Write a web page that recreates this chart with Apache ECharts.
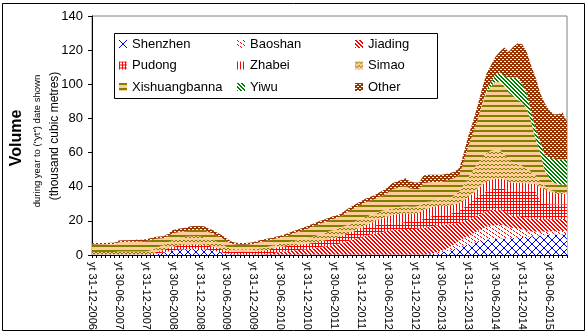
<!DOCTYPE html>
<html><head><meta charset="utf-8">
<script src="https://cdn.jsdelivr.net/npm/echarts@6/dist/echarts.min.js"></script>
<style>html,body{margin:0;padding:0;background:#fff}#c{width:588px;height:336px}</style>
</head><body><div id="c"></div>
<script>
const categories = [
'yt 31-12-2006',
'yt 31-01-2007','yt 28-02-2007','yt 31-03-2007','yt 30-04-2007','yt 31-05-2007','yt 30-06-2007','yt 31-07-2007','yt 31-08-2007','yt 30-09-2007','yt 31-10-2007','yt 30-11-2007','yt 31-12-2007',
'yt 31-01-2008','yt 29-02-2008','yt 31-03-2008','yt 30-04-2008','yt 31-05-2008','yt 30-06-2008','yt 31-07-2008','yt 31-08-2008','yt 30-09-2008','yt 31-10-2008','yt 30-11-2008','yt 31-12-2008',
'yt 31-01-2009','yt 28-02-2009','yt 31-03-2009','yt 30-04-2009','yt 31-05-2009','yt 30-06-2009','yt 31-07-2009','yt 31-08-2009','yt 30-09-2009','yt 31-10-2009','yt 30-11-2009','yt 31-12-2009',
'yt 31-01-2010','yt 28-02-2010','yt 31-03-2010','yt 30-04-2010','yt 31-05-2010','yt 30-06-2010','yt 31-07-2010','yt 31-08-2010','yt 30-09-2010','yt 31-10-2010','yt 30-11-2010','yt 31-12-2010',
'yt 31-01-2011','yt 28-02-2011','yt 31-03-2011','yt 30-04-2011','yt 31-05-2011','yt 30-06-2011','yt 31-07-2011','yt 31-08-2011','yt 30-09-2011','yt 31-10-2011','yt 30-11-2011','yt 31-12-2011',
'yt 31-01-2012','yt 29-02-2012','yt 31-03-2012','yt 30-04-2012','yt 31-05-2012','yt 30-06-2012','yt 31-07-2012','yt 31-08-2012','yt 30-09-2012','yt 31-10-2012','yt 30-11-2012','yt 31-12-2012',
'yt 31-01-2013','yt 28-02-2013','yt 31-03-2013','yt 30-04-2013','yt 31-05-2013','yt 30-06-2013','yt 31-07-2013','yt 31-08-2013','yt 30-09-2013','yt 31-10-2013','yt 30-11-2013','yt 31-12-2013',
'yt 31-01-2014','yt 28-02-2014','yt 31-03-2014','yt 30-04-2014','yt 31-05-2014','yt 30-06-2014','yt 31-07-2014','yt 31-08-2014','yt 30-09-2014','yt 31-10-2014','yt 30-11-2014','yt 31-12-2014',
'yt 31-01-2015','yt 28-02-2015','yt 31-03-2015','yt 30-04-2015','yt 31-05-2015','yt 30-06-2015','yt 31-07-2015','yt 31-08-2015','yt 30-09-2015','yt 31-10-2015'
];

const shenzhen = [0.3,
0.3,0.3,0.3,0.3,0.3,0.3,0.3,0.3,0.3,0.3,0.3,0.3,
0.3,0.6,1.0,1.5,2.0,2.5,2.9,3.2,3.4,3.5,3.6,3.5,
3.3,3.0,2.6,2.0,1.4,0.9,0.5,0.3,0.3,0.3,0.3,0.3,
0.3,0.3,0.3,0.3,0.3,0.3,0.3,0.3,0.3,0.3,0.3,0.3,
0.3,0.3,0.3,0.3,0.3,0.3,0.3,0.3,0.3,0.3,0.3,0.3,
0.3,0.3,0.3,0.3,0.3,0.3,0.3,0.3,0.3,0.3,0.3,0.3,
0.3,0.3,0.3,0.6,1.0,1.5,2.0,2.8,3.6,4.5,5.5,6.2,
7.0,8.0,8.5,9.0,9.3,9.5,9.6,9.7,9.8,10,10.2,10.5,
10.7,11,11.2,11.4,11.6,11.8,12,12,12.2,12.3];

const baoshan = [0,
0,0,0,0,0,0,0,0,0,0,0,0,
0,0,0,0,0,0,0,0,0,0,0,0,
0,0,0,0,0,0,0,0,0,0,0,0,
0,0,0,0,0,0,0,0,0,0,0,0,
0,0,0,0,0,0,0,0,0,0,0,0,
0,0,0,0,0,0,0,0,0,0,0,0,
0,0,0.1,0.3,0.6,1.0,1.5,2.2,3.0,3.8,4.5,5.0,
5.5,6.0,6.8,7.5,8.0,8.0,8.0,7.6,6.5,5.8,5.5,4.5,
3.5,2.8,2.5,2.2,2.1,2.0,2.0,2.0,1.9,1.9];

const jiading = [0,
0,0,0,0,0,0,0,0,0,0,0,0,
0,0,0,0,0,0,0,0,0,0,0,0,
0,0,0,0,0,0,0,0,0,0,0,0,
0,0,0.3,0.7,1.0,1.5,1.8,2.0,2.3,2.6,2.8,3.0,
3.4,3.8,4.3,4.8,5.2,5.6,6.2,7.0,7.8,8.5,9.2,10,
10.8,11.5,12.2,12.8,13.3,13.8,14.2,14.5,14.8,15,15,15,
15.2,15.5,16,16,15.8,15.2,14.3,13,11.8,10.5,9.8,9.5,
9.3,9.2,9.0,9.0,9,9,8.8,8.3,7.5,7,7,7.2,
7.3,7.5,7.5,7.5,7.3,7.2,7,7,7,7];

const pudong = [0,
0,0,0,0,0,0,0,0,0,0,0,0,
0.3,0.8,1.2,1.6,2.0,2.3,2.5,2.6,2.7,2.7,2.7,2.6,
2.5,2.4,2.2,2.0,1.8,1.6,1.5,1.5,1.5,1.5,1.6,1.7,
1.9,2.1,2.3,2.5,2.8,3.0,3.0,3.1,3.1,3.2,3.2,3.2,
3.3,3.4,3.5,3.6,3.8,3.9,4.1,4.3,4.5,4.7,4.9,5.0,
5.0,4.9,4.8,4.6,4.4,4.2,4.0,4.0,4.0,4.0,4.0,4.2,
4.5,5.5,5.8,6.0,6.0,6.0,6.0,6.2,6.6,7.2,8.0,9.0,
10,11,11.5,11.7,12,12.3,12.6,13.2,14,15,15.6,16,
16.5,16.5,16,10.5,9,8.8,8.8,8.6,8.6,8.5];

const zhabei = [0,
0,0,0,0,0,0,0,0,0,0,0,0,
0,0,0,0,0,0,0,0,0,0,0,0,
0,0,0,0,0,0,0,0,0,0,0,0,
0,0,0,0,0,0,0,0,0,0,0,0,
0,0,0,0,0,0,0,0,0,0.3,0.5,0.8,
1.2,1.8,2.5,3.2,3.8,4.3,4.8,5.0,5.2,5.2,5.0,4.8,
4.8,5.0,5.2,5.3,5.3,5.2,5.0,4.8,4.6,4.4,4.3,4.3,
4.2,4.2,5.0,5.8,5.8,5.8,5.8,5.5,5.0,4.5,4.2,4.0,
4.0,4.0,4.5,8,8.5,7.5,6.5,6.2,6.0,6.0];

const simao = [1.5,
1.5,1.5,1.5,1.5,1.5,1.8,1.8,1.8,1.8,1.8,1.8,1.8,
2.0,2.3,2.6,3.0,3.5,4.0,4.3,4.5,4.6,4.8,4.8,4.8,
4.6,4.3,4.0,3.6,3.0,2.4,1.8,1.6,1.5,1.5,1.5,1.5,
1.6,1.7,1.8,1.8,1.8,1.8,2.0,2.2,2.5,2.8,3.0,3.3,
3.5,3.8,4.0,4.3,4.6,4.9,5.0,5.0,5.0,5.0,5.0,5.0,
5.0,4.8,4.5,4.3,4.2,4.0,4.0,4.0,4.0,4.0,4.0,4.0,
4.0,4.0,3.8,3.6,3.6,3.8,4.0,4.5,5.5,7.0,9.0,11.5,
13.5,15,16,16.8,17,17,16.8,14.5,13,11.7,11,10,
8.8,7,5,3,2,1,1,1,1,1];

const xishuangbanna = [4.4,
4.4,4.5,4.5,4.6,4.6,5.4,5.5,5.6,5.7,5.8,5.9,6.1,
6.1,5.6,4.8,3.7,3.6,3.9,3.5,3.4,3.2,3.6,3.7,3.9,
4.2,3.8,3.7,3.6,3.7,3.5,3.0,2.7,2.7,2.7,2.8,3.0,
3.4,3.8,3.7,3.6,3.7,3.5,3.7,4.1,4.5,4.7,5.2,5.4,
5.9,6.1,6.3,6.4,6.5,6.6,6.4,6.8,7.7,7.9,8.2,8.4,
8.6,8.5,8.4,8.8,9.2,9.9,11.2,11.4,11.7,12.0,10.7,10.4,
9.9,11.7,11.3,10.9,10.5,10.3,10.7,10.7,10.1,9.6,13.9,18.5,
21.5,25.6,30.7,35.2,37.4,39.9,39.9,40.2,39.2,39,37.5,37.3,
35.2,29.6,21.3,17.4,9.5,6.7,5.2,4.7,4.5,4.5];

const yiwu = [0,
0,0,0,0,0,0,0,0,0,0,0,0,
0,0,0,0,0,0,0,0,0,0,0,0,
0,0,0,0,0,0,0,0,0,0,0,0,
0,0,0,0,0,0,0,0,0,0,0,0,
0,0,0,0,0,0,0,0,0,0,0,0,
0,0,0,0,0,0,0,0,0,0,0,0,
0,0,0,0,0,0,0,0,0,0,0,0,
0,0,0.5,1.5,2.5,4,5.5,6,9,11,13,10.5,
9,5.6,6,6.7,8.8,12,14,14.5,14.8,15];

const other = [0.8,
0.8,0.8,0.8,0.8,0.8,1.0,1.0,1.0,1.0,1.0,1.0,1.0,
1.1,1.2,1.2,1.2,1.4,1.8,2.0,2.0,2.1,2.2,2.2,2.2,
2.2,2.0,2.0,1.8,1.6,1.4,1.2,1.1,1.0,1.0,1.0,1.0,
1.1,1.1,1.1,1.1,1.1,1.2,1.2,1.3,1.3,1.4,1.5,1.6,
1.6,1.6,1.6,1.6,1.6,1.5,1.5,1.6,1.7,1.8,1.9,2.0,
2.1,2.2,2.3,2.5,2.8,3.0,3.5,3.8,4.0,4.5,4.0,3.8,
3.8,4.5,4.5,4.3,4.2,4.0,4.0,3.8,3.8,4.0,5.0,6.0,
7.0,8.0,9.0,9.5,10,10.5,12,16.5,15,18,20,23.5,
24,27,30,28.3,30.2,28,26,26.5,27.5,21.8];

const seriesNames = ['Shenzhen','Baoshan','Jiading','Pudong','Zhabei','Simao','Xishuangbanna','Yiwu','Other'];
const seriesValues = [shenzhen, baoshan, jiading, pudong, zhabei, simao, xishuangbanna, yiwu, other];
const yTicks = {min: 0, max: 140, step: 20};

// ---- fill patterns (Excel-like) ----
function pattern(w, h, bg, fg, pixels) {
  const c = document.createElement('canvas');
  c.width = w; c.height = h;
  const g = c.getContext('2d');
  g.fillStyle = bg; g.fillRect(0, 0, w, h);
  g.fillStyle = fg;
  pixels.forEach(p => g.fillRect(p[0], p[1], p[2] || 1, p[3] || 1));
  return {image: c, repeat: 'repeat'};
}
const RED = '#ff0000', BLUE = '#0000ff', OLIVE = '#808000', TAN = '#ffcc99', GREEN = '#008000', BROWN = '#993300', WHITE = '#ffffff';
function diag(n, set, flip) { const px = []; for (let y = 0; y < n; y++) for (let x = 0; x < n; x++) { const d = ((flip ? x + y : x - y) % n + n) % n; if (set.includes(d)) px.push([x, y]); } return px; }
const xPix = []; for (let k = 0; k < 8; k++) { xPix.push([k, k]); xPix.push([7 - k, k]); }
const fills = [
  pattern(8, 8, WHITE, BLUE, xPix),                                   // Shenzhen
  pattern(6, 4, WHITE, RED, [[0,0],[1,1],[3,2],[4,3]]),              // Baoshan
  pattern(4, 4, WHITE, RED, diag(4, [0,1])),                          // Jiading
  pattern(3, 3, WHITE, RED, [[0,0,3,1],[0,0,1,3]]),                   // Pudong
  pattern(3, 1, WHITE, RED, [[0,0]]),                                 // Zhabei
  pattern(4, 4, TAN, OLIVE, [[0,0],[1,1],[2,1],[3,0]]),               // Simao
  pattern(1, 5, TAN, OLIVE, [[0,0,1,2]]),                             // Xishuangbanna
  pattern(4, 4, WHITE, GREEN, diag(4, [0,1])),                        // Yiwu
  pattern(4, 4, BROWN, WHITE, [[0,1,2,1],[2,3,2,1]])                  // Other
];

const FONT = '"Liberation Sans", Arial, sans-serif';
const series = seriesNames.map((n, i) => ({
  name: n, type: 'line', stack: 'total', data: seriesValues[i],
  symbol: 'none', showSymbol: false,
  lineStyle: {width: 0, opacity: 0},
  itemStyle: {color: fills[i]},
  areaStyle: {color: fills[i], opacity: 1},
  emphasis: {disabled: true}
}));

function legendCol(left, names) {
  return {
    left: left, top: 37, orient: 'vertical', icon: 'rect',
    itemWidth: 8, itemHeight: 8, itemGap: 7.5, selectedMode: false,
    padding: 0,
    textStyle: {fontFamily: FONT, fontSize: 13, color: '#000', lineHeight: 14, padding: [0,0,0,0]},
    data: names.map(n => ({name: n, itemStyle: {color: fills[seriesNames.indexOf(n)]}}))
  };
}

const chart = echarts.init(document.getElementById('c'), null, {renderer: 'canvas'});
chart.setOption({
  animation: false,
  textStyle: {fontFamily: FONT},
  grid: {left: 92, right: 21, top: 16, bottom: 81, show: true, borderColor: '#808080', borderWidth: 1, backgroundColor: 'transparent'},
  legend: [
    legendCol(119, ['Shenzhen','Pudong','Xishuangbanna']),
    legendCol(237, ['Baoshan','Zhabei','Yiwu']),
    legendCol(355, ['Jiading','Simao','Other'])
  ],
  xAxis: {
    type: 'category', data: categories, boundaryGap: false,
    axisLine: {lineStyle: {color: '#000', width: 1}},
    axisTick: {show: true, interval: 0, length: 3, lineStyle: {color: '#000'}},
    axisLabel: {interval: 5, rotate: -90, fontSize: 11, color: '#000', fontFamily: FONT, margin: 7},
    splitLine: {show: false}
  },
  yAxis: {
    type: 'value', min: yTicks.min, max: yTicks.max, interval: yTicks.step,
    axisLine: {show: true, lineStyle: {color: '#000', width: 1}},
    axisTick: {show: true, length: 4, lineStyle: {color: '#000'}},
    axisLabel: {fontSize: 13, color: '#000', fontFamily: FONT, margin: 9},
    splitLine: {show: false}
  },
  graphic: [
    {type: 'rect', shape: {x: 2.5, y: 3.5, width: 582, height: 327}, style: {fill: 'none', stroke: '#000', lineWidth: 1}, silent: true, z: 0},
    {type: 'rect', shape: {x: 114.5, y: 33.5, width: 323, height: 65}, style: {fill: '#fff', stroke: '#000', lineWidth: 1}, silent: true, z: 1},
    {type: 'text', x: 17, y: 138, rotation: Math.PI / 2, style: {text: 'Volume', font: 'bold 16px ' + FONT, fill: '#000', align: 'center', verticalAlign: 'middle'}, silent: true},
    {type: 'text', x: 37, y: 141, rotation: Math.PI / 2, style: {text: 'during year to ("yt") date shown', font: '9.5px ' + FONT, fill: '#000', align: 'center', verticalAlign: 'middle'}, silent: true},
    {type: 'text', x: 55, y: 136, rotation: Math.PI / 2, style: {text: '(thousand cubic metres)', font: '12px ' + FONT, fill: '#000', align: 'center', verticalAlign: 'middle'}, silent: true}
  ],
  series: series
});
</script>
</body></html>
